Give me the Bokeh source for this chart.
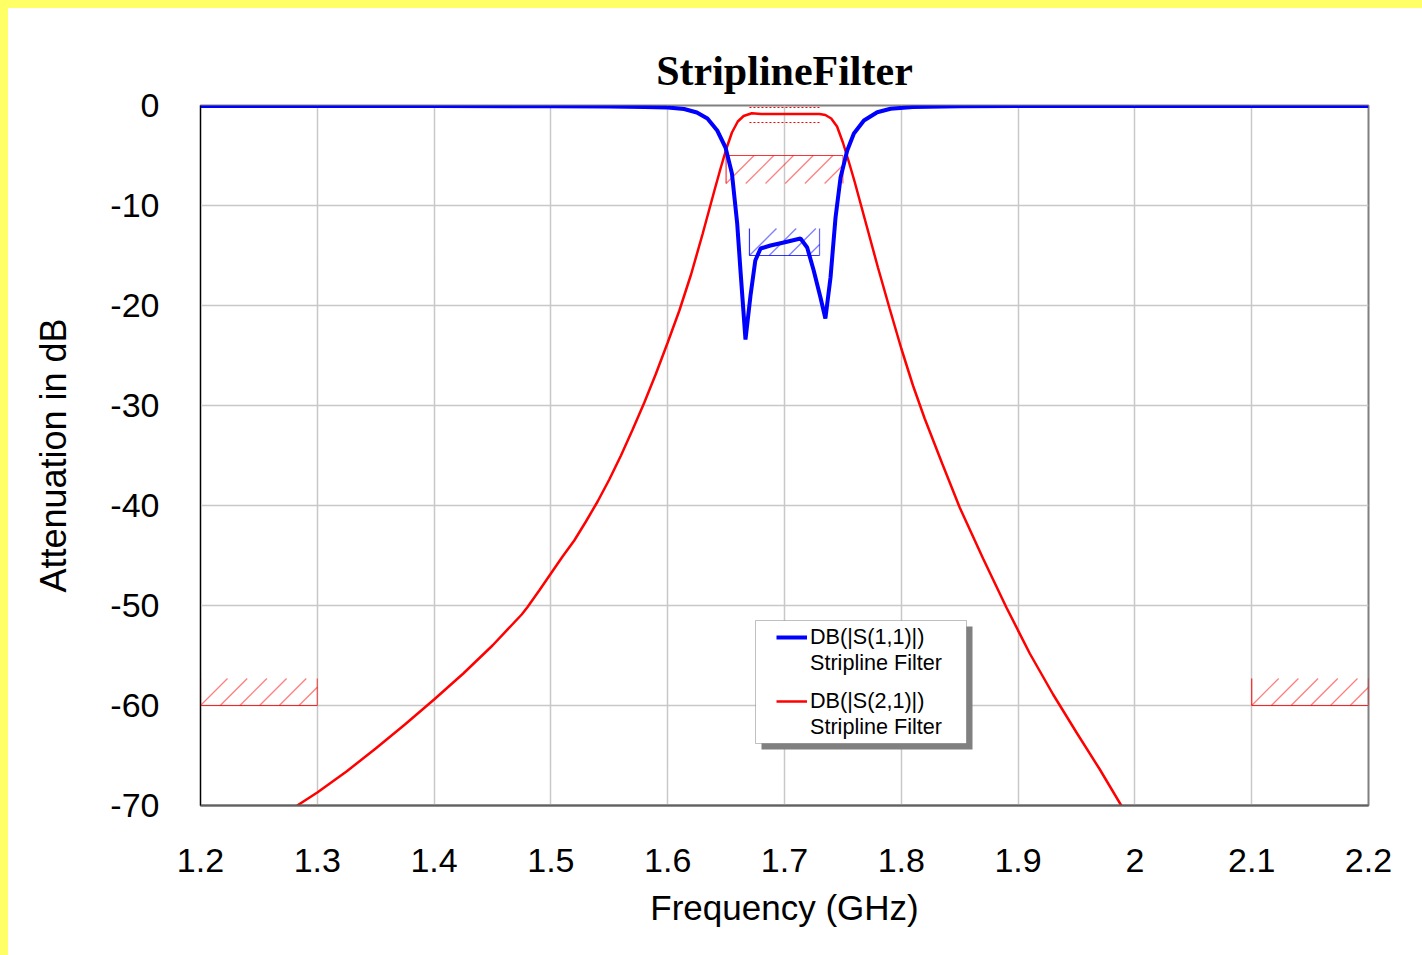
from bokeh.plotting import figure
from bokeh.models import Legend, LegendItem, BoxAnnotation, Spacer, FixedTicker, Range1d
from bokeh.layouts import row, column
from bokeh.embed import file_html
from bokeh.resources import INLINE

# ---------------- data ----------------
freq_s11 = [1.2, 1.3, 1.4, 1.5, 1.55, 1.58, 1.6, 1.614, 1.625, 1.634, 1.6424, 1.6495, 1.655,
            1.6595, 1.6623, 1.6666, 1.6709, 1.675, 1.6795, 1.688, 1.6994, 1.7137, 1.7194,
            1.725, 1.7308, 1.735, 1.7394, 1.7437, 1.748, 1.7537, 1.7594, 1.768, 1.7794,
            1.7908, 1.81, 1.85, 1.9, 2.0, 2.1, 2.2]
db_s11 = [-0.06, -0.06, -0.06, -0.07, -0.1, -0.15, -0.2, -0.35, -0.7, -1.3, -2.5, -4.2, -6.8,
          -11.8, -16.5, -23.4, -19.0, -15.5, -14.3, -14.0, -13.7, -13.3, -14.2,
          -16.5, -19.2, -21.3, -17.2, -11.2, -7.2, -4.5, -2.8, -1.5, -0.67,
          -0.33, -0.15, -0.08, -0.06, -0.06, -0.06, -0.06]

freq_s21 = [1.2828, 1.3, 1.325, 1.35, 1.375, 1.4, 1.425, 1.45, 1.475, 1.4797, 1.49, 1.5,
            1.51, 1.52, 1.53, 1.54, 1.55, 1.56, 1.57, 1.58, 1.59, 1.6, 1.61, 1.62, 1.63,
            1.64, 1.645, 1.65, 1.655, 1.66, 1.665, 1.672, 1.68, 1.7, 1.72, 1.73, 1.735,
            1.74, 1.745, 1.75, 1.755, 1.76, 1.77, 1.78, 1.79, 1.8, 1.81, 1.82, 1.835, 1.85,
            1.87, 1.89, 1.91, 1.93, 1.95, 1.97, 1.9883]
db_s21 = [-70.0, -68.7, -66.6, -64.3, -61.9, -59.4, -56.8, -54.0, -50.9, -50.2, -48.5, -46.8,
          -45.1, -43.5, -41.6, -39.6, -37.4, -35.0, -32.4, -29.7, -26.8, -23.7, -20.5, -16.9,
          -12.8, -8.5, -6.4, -4.4, -2.7, -1.6, -1.05, -0.78, -0.85, -0.85, -0.85, -0.85, -0.95,
          -1.3, -2.1, -3.7, -5.6, -7.6, -11.9, -16.2, -20.3, -24.3, -28.0, -31.3, -35.8, -40.2,
          -45.3, -50.2, -54.8, -58.9, -62.7, -66.4, -70.0]

# specification masks (limit line + hatched forbidden side)
spec_x0 = [1.2, 2.1, 1.65, 1.67]
spec_x1 = [1.3, 2.2, 1.75, 1.73]
spec_limit = [-60.0, -60.0, -5.0, -15.0]
spec_edge = [-57.3, -57.3, -7.8, -12.3]
spec_color = ["#ff0000", "#ff0000", "#ff0000", "#0000ff"]

ripple_x0 = [1.67, 1.67]
ripple_x1 = [1.73, 1.73]
ripple_y = [-0.2, -1.7]

x_ticks = [1.2, 1.3, 1.4, 1.5, 1.6, 1.7, 1.8, 1.9, 2.0, 2.1, 2.2]
x_tick_labels = ["1.2", "1.3", "1.4", "1.5", "1.6", "1.7", "1.8", "1.9", "2", "2.1", "2.2"]
y_ticks = [-70, -60, -50, -40, -30, -20, -10, 0]
y_tick_labels = ["-70", "-60", "-50", "-40", "-30", "-20", "-10", "0"]

series_names = ["DB(|S(1,1)|)", "DB(|S(2,1)|)"]
source_name = "Stripline Filter"

# ---------------- figure ----------------
FRAME_W, FRAME_H = 1168, 700
X0, X1, Y0, Y1 = 1.2, 2.2, -70.0, 0.0
PX_PER_X = FRAME_W / (X1 - X0)
PX_PER_Y = FRAME_H / (Y1 - Y0)

p = figure(frame_width=FRAME_W, frame_height=FRAME_H,
           min_border_left=192, min_border_right=54, min_border_top=97, min_border_bottom=140,
           x_range=Range1d(X0, X1), y_range=Range1d(Y0, Y1),
           output_backend="svg", toolbar_location=None,
           title="StriplineFilter")
p.background_fill_color = "white"
p.border_fill_color = "white"
p.outline_line_color = "#808080"
p.outline_line_width = 2

p.title.align = "center"
p.title.text_font = "Liberation Serif"
p.title.text_font_size = "42px"
p.title.text_font_style = "bold"
p.title.text_color = "black"
p.title.standoff = 23

p.xaxis.ticker = FixedTicker(ticks=x_ticks)
p.yaxis.ticker = FixedTicker(ticks=y_ticks)
p.xaxis.major_label_overrides = {t: s for t, s in zip(x_ticks, x_tick_labels)}
p.yaxis.major_label_overrides = {t: s for t, s in zip(y_ticks, y_tick_labels)}
for ax in (p.xaxis, p.yaxis):
    ax.major_tick_line_color = None
    ax.minor_tick_line_color = None
    ax.major_label_text_font = "Liberation Sans"
    ax.major_label_text_font_size = "34px"
    ax.major_label_text_color = "black"
    ax.axis_label_text_font = "Liberation Sans"
    ax.axis_label_text_font_style = "normal"
    ax.axis_label_text_color = "black"
p.xaxis.axis_label_text_font_size = "35px"
p.yaxis.axis_label_text_font_size = "36px"
p.xaxis.axis_label = "Frequency (GHz)"
p.yaxis.axis_label = "Attenuation in dB"
p.xaxis.major_label_standoff = 37
p.yaxis.major_label_standoff = 35
p.xaxis.axis_label_standoff = 13
p.yaxis.axis_label_standoff = 33
p.xaxis.axis_line_color = "#606060"
p.xaxis.axis_line_width = 2
p.yaxis.axis_line_color = "black"
p.yaxis.axis_line_width = 1

p.grid.grid_line_color = "#c8c8c8"
p.grid.grid_line_width = 1.5

# spec masks: 45-degree hatch lines computed from each mask's extent
HATCH_STEP_PX = 19.7
hx0, hy0, hx1, hy1, hcol = [], [], [], [], []
for xa, xb, lim, edge, c in zip(spec_x0, spec_x1, spec_limit, spec_edge, spec_color):
    lo_, hi_ = min(lim, edge), max(lim, edge)
    dx = (hi_ - lo_) * PX_PER_Y / PX_PER_X
    step = HATCH_STEP_PX / PX_PER_X
    k = 0
    while xa + k * step < xb - 1e-9:
        sx = xa + k * step
        ex, ey = sx + dx, hi_
        if ex > xb:
            ey = lo_ + (hi_ - lo_) * (xb - sx) / dx
            ex = xb
        hx0.append(sx); hy0.append(lo_); hx1.append(ex); hy1.append(ey); hcol.append(c)
        k += 1
p.segment(x0=hx0, y0=hy0, x1=hx1, y1=hy1, line_color=hcol, line_alpha=0.5, line_width=1.3)
p.segment(x0=spec_x0, y0=spec_limit, x1=spec_x1, y1=spec_limit, line_color=spec_color,
          line_width=1.2, line_alpha=0.8)
p.segment(x0=spec_x0, y0=spec_limit, x1=spec_x0, y1=spec_edge, line_color=spec_color,
          line_width=1.2, line_alpha=0.8)
p.segment(x0=spec_x1, y0=spec_limit, x1=spec_x1, y1=spec_edge, line_color=spec_color,
          line_width=1.2, line_alpha=0.6)
p.segment(x0=ripple_x0, y0=ripple_y, x1=ripple_x1, y1=ripple_y, line_color="#ff0000",
          line_width=1, line_dash="2 2")

r21 = p.line(freq_s21, db_s21, line_color="#ff0000", line_width=2.5)
r11 = p.line(freq_s11, db_s11, line_color="#0000ff", line_width=4)
# invisible renderer used for the second (description) line of each legend entry
blank = p.line([], [], line_alpha=0)

# legend frame and shadow (pixel placement converted to data coordinates)
def px_x(px):
    return X0 + (px - 200) / PX_PER_X

def px_y(py):
    return Y1 - (py - 105) / PX_PER_Y

p.add_layout(BoxAnnotation(left=px_x(761), right=px_x(972), top=px_y(626), bottom=px_y(749),
                           fill_color="#808080", fill_alpha=1, line_color=None,
                           level="annotation"))
p.add_layout(BoxAnnotation(left=px_x(755), right=px_x(966), top=px_y(620), bottom=px_y(743),
                           fill_color="white", fill_alpha=1, line_color="#303030",
                           line_width=1, level="annotation"))

def make_legend(renderer, name, loc):
    lg = Legend(items=[LegendItem(label=name, renderers=[renderer]),
                       LegendItem(label=source_name, renderers=[blank])],
                location=loc, orientation="vertical")
    lg.label_text_font = "Liberation Sans"
    lg.label_text_font_size = "21.6px"
    lg.label_text_color = "black"
    lg.label_text_line_height = 1.1
    lg.glyph_width = 31
    lg.glyph_height = 24
    lg.label_height = 24
    lg.label_standoff = 3
    lg.padding = 0
    lg.spacing = 0
    lg.margin = 0
    lg.border_line_color = None
    lg.background_fill_alpha = 0
    return lg

p.add_layout(make_legend(r11, series_names[0], (576, 129)))
p.add_layout(make_legend(r21, series_names[1], (576, 65)))

yellow = "#FFFF66"
layout = row(Spacer(width=8, height=955, styles={"background-color": yellow}),
             column(Spacer(width=1414, height=8, styles={"background-color": yellow}), p))

open("out.html", "w").write(file_html(layout, INLINE))
